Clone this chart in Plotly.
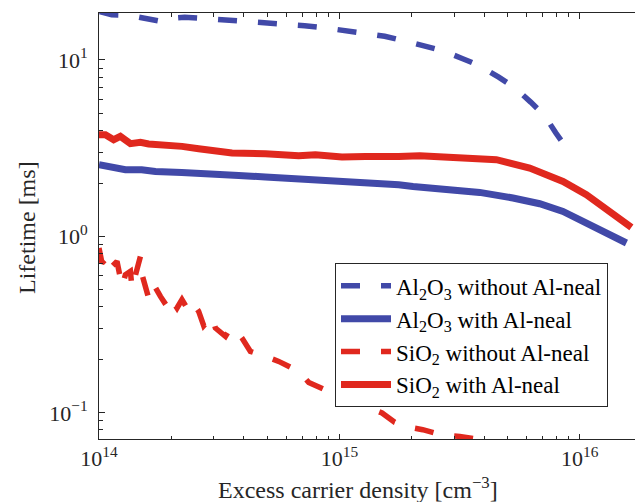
import plotly.graph_objects as go

# Al2O3 without Al-neal (dashed blue)
al_wo_x = [1.007e14, 1.129e14, 1.329e14, 1.564e14, 1.705e14, 1.789e14, 1.876e14, 2.273e14, 2.726e14,
           3.333e14, 4.038e14, 4.891e14, 5.866e14, 7.171e14, 8.603e14, 1.052e15, 1.262e15, 1.543e15,
           1.851e15, 2.242e15, 2.690e15, 3.258e15, 3.833e15, 4.599e15, 5.362e15, 6.248e15, 7.145e15,
           7.94e15, 8.906e15]
al_wo_y = [18.79, 18.06, 17.95, 17.26, 17.03, 16.60, 17.15, 17.48, 17.19,
           16.92, 16.64, 16.27, 15.90, 15.65, 15.24, 14.75, 14.28, 13.64,
           12.87, 12.13, 11.29, 10.17, 9.28, 7.99, 6.97, 5.77, 4.83,
           3.87, 3.10]

# Al2O3 with Al-neal (solid blue)
al_w_x = [1.0e14, 1.097e14, 1.288e14, 1.505e14, 1.717e14, 2.208e14, 2.860e14, 3.812e14, 4.922e14,
          6.771e14, 9.290e14, 1.283e15, 1.765e15, 2.024e15, 2.787e15, 3.833e15, 5.274e15, 6.812e15,
          8.513e15, 1.065e16, 1.290e16, 1.563e16]
al_w_y = [2.550, 2.494, 2.388, 2.388, 2.336, 2.306, 2.288, 2.217, 2.171,
          2.124, 2.077, 2.034, 1.964, 1.920, 1.857, 1.776, 1.651, 1.532,
          1.386, 1.191, 1.045, 0.9175]

# SiO2 without Al-neal (dashed red)
si_wo_x = [1.0e14, 1.029e14, 1.080e14, 1.115e14, 1.133e14, 1.188e14, 1.247e14, 1.288e14, 1.351e14,
           1.372e14, 1.487e14, 1.510e14, 1.609e14, 1.689e14, 1.801e14, 1.918e14, 1.982e14, 2.111e14,
           2.214e14, 2.323e14, 2.437e14, 2.598e14, 2.726e14, 2.951e14, 3.049e14, 3.357e14, 3.521e14,
           3.693e14, 3.934e14, 4.264e14, 4.922e14, 5.592e14, 6.771e14, 7.454e14, 9.028e14, 1.059e15,
           1.283e15, 1.504e15, 1.699e15, 1.869e15, 2.221e15, 2.657e15, 3.166e15, 3.833e15]
si_wo_y = [0.8595, 0.7066, 0.7543, 0.7877, 0.6759, 0.7214, 0.5206, 0.6066, 0.6333,
           0.5098, 0.7704, 0.6066, 0.4474, 0.5323, 0.4569, 0.4011, 0.4474, 0.3927,
           0.4377, 0.3927, 0.4280, 0.3757, 0.3117, 0.3519, 0.3024, 0.2711, 0.3024,
           0.2958, 0.2655, 0.2229, 0.2088, 0.1956, 0.1717, 0.1487, 0.1322, 0.1213,
           0.1087, 0.0997, 0.0884, 0.0837, 0.0802, 0.0751, 0.0735, 0.0704]

# SiO2 with Al-neal (solid red)
si_w_x = [1.0e14, 1.063e14, 1.151e14, 1.227e14, 1.351e14, 1.487e14, 1.609e14, 1.889e14, 2.214e14,
          2.598e14, 3.049e14, 3.575e14, 4.922e14, 6.771e14, 7.948e14, 1.025e15, 1.283e15, 1.471e15,
          1.765e15, 2.158e15, 3.267e15, 4.499e15, 6.188e15, 8.513e15, 1.065e16, 1.374e16, 1.639e16]
si_w_y = [3.772, 3.772, 3.534, 3.689, 3.354, 3.411, 3.341, 3.311, 3.238,
          3.142, 3.033, 2.970, 2.943, 2.867, 2.905, 2.819, 2.841, 2.819,
          2.841, 2.867, 2.819, 2.722, 2.442, 2.050, 1.723, 1.357, 1.125]

x_major = [1e14, 1e15, 1e16]
x_major_text = ["10<sup>14</sup>", "10<sup>15</sup>", "10<sup>16</sup>"]
y_major = [0.1, 1, 10]
y_major_text = ["10<sup>−1</sup>", "10<sup>0</sup>", "10<sup>1</sup>"]

BLUE = "#4149A8"
RED = "#E0281E"
AX = "#262626"
FONT = "Liberation Serif, 'Times New Roman', Times, DejaVu Serif, serif"

x_minor = [m * 10 ** e for e in (14, 15, 16) for m in range(2, 10)]
y_minor = [m * 10 ** e for e in (-2, -1, 0, 1) for m in range(2, 10)]

# page body has an 8px margin: figure is 8px smaller and everything is offset by it
W, H = 635, 494
L, T, B = 91, 5, 63
PW, PH = W - L, H - T - B  # 544 x 426

def px(xw):  # window x -> paper x
    return (xw - 8 - L) / PW

def py(yw):  # window y -> paper y
    return (T + PH - (yw - 8)) / PH

fig = go.Figure()
fig.add_trace(go.Scatter(x=al_wo_x, y=al_wo_y, mode="lines", name="Al<sub>2</sub>O<sub>3</sub> without Al-neal",
                         line=dict(color=BLUE, width=5.5, dash="19px,21px")))
fig.add_trace(go.Scatter(x=al_w_x, y=al_w_y, mode="lines", name="Al<sub>2</sub>O<sub>3</sub> with Al-neal",
                         line=dict(color=BLUE, width=7)))
fig.add_trace(go.Scatter(x=si_wo_x, y=si_wo_y, mode="lines", name="SiO<sub>2</sub> without Al-neal",
                         line=dict(color=RED, width=5.5, dash="19px,21px")))
fig.add_trace(go.Scatter(x=si_w_x, y=si_w_y, mode="lines", name="SiO<sub>2</sub> with Al-neal",
                         line=dict(color=RED, width=7)))

fig.update_layout(
    width=W, height=H,
    margin=dict(l=L, r=0, t=T, b=B, pad=0, autoexpand=False),
    paper_bgcolor="white", plot_bgcolor="white",
    font=dict(family=FONT, size=22, color=AX),
    showlegend=True,
    legend=dict(x=px(335), y=py(263.3), xanchor="left", yanchor="top",
                bgcolor="white", bordercolor=AX, borderwidth=1,
                font=dict(family=FONT, size=23, color="black"),
                itemwidth=50, tracegroupgap=0),
    annotations=[
        dict(text="Excess carrier density [cm<sup>−3</sup>]", xref="paper", yref="paper",
             x=px(358), y=py(488), xanchor="center", yanchor="middle",
             showarrow=False, font=dict(family=FONT, size=24, color=AX)),
        dict(text="Lifetime [ms]", xref="paper", yref="paper", textangle=-90,
             x=px(27), y=py(228), xanchor="center", yanchor="middle",
             showarrow=False, font=dict(family=FONT, size=24, color=AX)),
    ],
)
fig.update_xaxes(type="log", range=[14, 14 + 544 / 240.4], automargin=False,
                 tickvals=x_major, ticktext=x_major_text,
                 ticks="inside", ticklen=5.5, tickcolor=AX, tickwidth=1,
                 minor=dict(tickvals=x_minor, ticks="inside", ticklen=3.5, tickcolor=AX, tickwidth=1),
                 showline=True, linecolor=AX, linewidth=1, mirror="ticks",
                 showgrid=False, zeroline=False,
                 tickfont=dict(family=FONT, size=22, color=AX))
fig.update_yaxes(type="log", range=[-1.1485, 1.2664], automargin=False,
                 tickvals=y_major, ticktext=y_major_text,
                 ticks="inside", ticklen=5.5, tickcolor=AX, tickwidth=1,
                 minor=dict(tickvals=y_minor, ticks="inside", ticklen=3.5, tickcolor=AX, tickwidth=1),
                 showline=True, linecolor=AX, linewidth=1, mirror=False,
                 showgrid=False, zeroline=False,
                 tickfont=dict(family=FONT, size=22, color=AX), ticklabelstandoff=6)

fig.write_html("out.html")
